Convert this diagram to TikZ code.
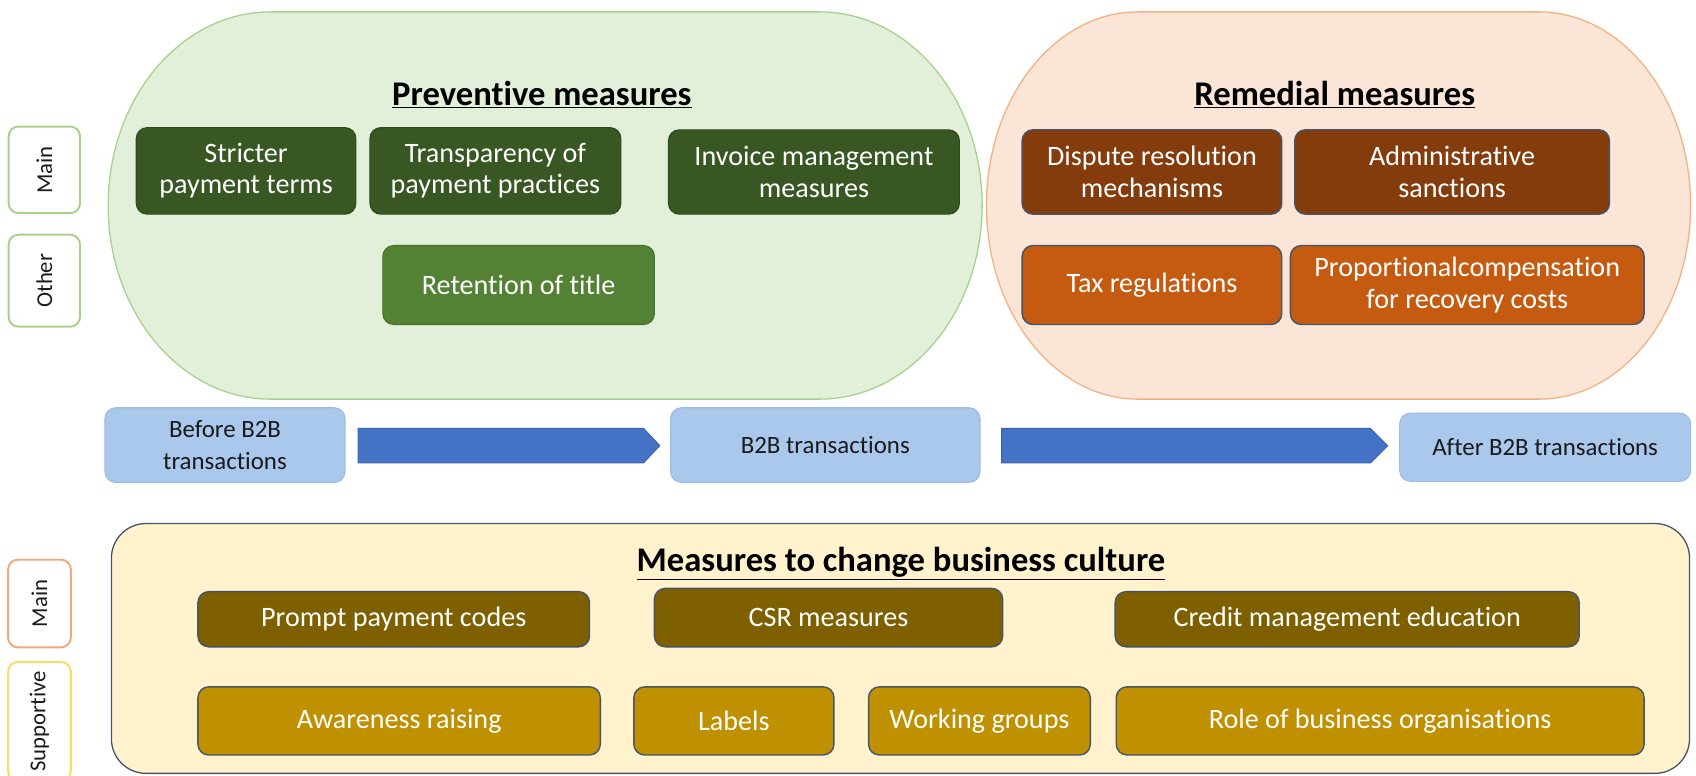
\documentclass[tikz,border=0pt]{standalone}
\usepackage{fontspec}
\setmainfont{Carlito}[Ligatures=NoCommon]
\definecolor{gfill}{HTML}{E2EFD9}
\definecolor{gline}{HTML}{A9D18E}
\definecolor{pfill}{HTML}{FBE5D6}
\definecolor{pline}{HTML}{F4B183}
\definecolor{dgreen}{HTML}{385723}
\definecolor{mgreen}{HTML}{548235}
\definecolor{dbrown}{HTML}{843C0C}
\definecolor{dorange}{HTML}{C55A11}
\definecolor{olive}{HTML}{7F6000}
\definecolor{gold}{HTML}{BF9000}
\definecolor{yfill}{HTML}{FFF2CC}
\definecolor{slate}{HTML}{44546A}
\definecolor{bfill}{HTML}{A9C8EC}
\definecolor{bline}{HTML}{9CBCE3}
\definecolor{arrowblue}{HTML}{4472C4}
\definecolor{arrowline}{HTML}{3A62AD}
\definecolor{labtext}{HTML}{1A1A1A}
\definecolor{mainorange}{HTML}{F4A77A}
\definecolor{supyellow}{HTML}{FFD966}
\newcommand\fsz[2]{\fontsize{#1}{#2}\selectfont}
\newcommand\placebox[7]{%
  \node[#2, minimum width={(#5)-(#3)}, minimum height={(#6)-(#4)}] (#1)
    at ({((#3)+(#5))/2},{((#4)+(#6))/2}) {#7};}
\begin{document}
\begin{tikzpicture}[x=1pt,y=-1pt,
  mbox/.style={rounded corners=10pt, inner sep=0pt, align=center, text=white,
               font=\fsz{26}{29}},
  gbox/.style={mbox, fill=dgreen, draw=dgreen!85!black, line width=1pt},
  g2box/.style={mbox, fill=mgreen, draw=mgreen!85!black, line width=1pt},
  brbox/.style={mbox, fill=dbrown, draw=slate, line width=1.3pt},
  orbox/.style={mbox, fill=dorange, draw=slate, line width=1.3pt},
  olbox/.style={mbox, fill=olive, draw=slate, line width=1.3pt},
  gdbox/.style={mbox, fill=gold, draw=slate, line width=1.3pt},
  bluebox/.style={rounded corners=10pt, inner sep=0pt, align=center, text=labtext,
               fill=bfill, draw=bline, line width=1pt, font=\fsz{23}{30}},
  slab/.style={fill=white, rounded corners=9pt, line width=1.8pt, inner sep=0pt,
               rotate=90, text=labtext, font=\fsz{21}{24}},
  ttl/.style={font=\bfseries\fsz{32}{38}, text=black, inner sep=0pt},
  blockarrow/.style={fill=arrowblue, draw=arrowline, line width=0.8pt},
]
\useasboundingbox (0,0) rectangle (1568,717);

% background groups
\path[draw=gline, fill=gfill, line width=1.2pt]
  (250,11) -- (758,11) arc[start angle=-90,end angle=0,x radius=150,y radius=179]
  arc[start angle=0,end angle=90,x radius=150,y radius=179]
  -- (250,369) arc[start angle=90,end angle=270,x radius=150,y radius=179] -- cycle;
\path[draw=pline, fill=pfill, line width=1.2pt]
  (1052,11) -- (1423,11) arc[start angle=-90,end angle=0,x radius=140,y radius=179]
  arc[start angle=0,end angle=90,x radius=140,y radius=179]
  -- (1052,369) arc[start angle=90,end angle=270,x radius=140,y radius=179] -- cycle;
\draw[draw=slate, fill=yfill, line width=1.2pt, rounded corners=32pt]
  (103,484) rectangle (1562,715);

% side labels
\node[slab, draw=gline, minimum width=80, minimum height=66] (lmain1) at (41,157) {Main};
\node[slab, draw=gline, minimum width=85, minimum height=66] (lother) at (41,259.5) {Other};
\node[slab, draw=mainorange, minimum width=81, minimum height=58] (lmain2) at (36.5,558) {Main};
\node[slab, draw=supyellow, minimum width=110, minimum height=58] (lsup) at (36.5,667) {Supportive};

% titles
\node[ttl] (tprev) at (501,87) {\underline{Preventive measures}};
\node[ttl] (trem) at (1234,87) {\underline{Remedial measures}};
\node[ttl] (tcult) at (833,521) {\underline{Measures to change business culture}};

% preventive
\placebox{st}{gbox}{126}{118}{329}{198}{Stricter\\payment terms}
\placebox{tr}{gbox}{342}{118}{574}{198}{Transparency of\\payment practices}
\placebox{im}{gbox}{618}{120}{887}{198}{Invoice management\\measures}
\placebox{rt}{g2box}{354}{227}{605}{300}{Retention of title}

% remedial
\placebox{dr}{brbox}{945}{120}{1185}{198}{Dispute resolution\\mechanisms}
\placebox{as}{brbox}{1197}{120}{1488}{198}{Administrative\\sanctions}
\placebox{tx}{orbox}{945}{227}{1185}{300}{Tax regulations}
\placebox{pc}{orbox}{1193}{227}{1520}{300}{Proportionalcompensation\\for recovery costs}

% timeline
\placebox{before}{bluebox}{97}{377}{319}{446}{Before B2B\\transactions}
\placebox{during}{bluebox}{620}{377}{906}{446}{B2B transactions}
\placebox{after}{bluebox}{1294}{382}{1563}{445}{After B2B transactions}
\path[blockarrow] (331,396) -- (595,396) -- (610,412) -- (595,428) -- (331,428) -- cycle;
\path[blockarrow] (926,396) -- (1267,396) -- (1283,412) -- (1267,428) -- (926,428) -- cycle;

% business culture
\placebox{ppc}{olbox}{183}{547}{545}{598}{Prompt payment codes}
\placebox{csr}{olbox}{605}{544}{927}{598}{CSR measures}
\placebox{cme}{olbox}{1031}{547}{1460}{598}{Credit management education}
\placebox{ar}{gdbox}{183}{635}{555}{698}{Awareness raising}
\placebox{lb}{gdbox}{586}{635}{771}{698}{Labels}
\placebox{wg}{gdbox}{803}{635}{1008}{698}{Working groups}
\placebox{rb}{gdbox}{1032}{635}{1520}{698}{Role of business organisations}
\end{tikzpicture}
\end{document}
